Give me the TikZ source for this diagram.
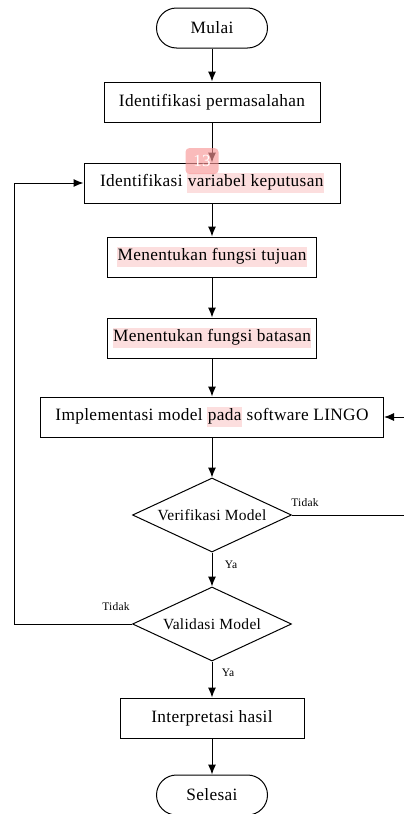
\documentclass[tikz,border=0pt]{standalone}
\usepackage{fontspec}
\setmainfont[LetterSpace=2]{Liberation Serif}
\usetikzlibrary{shapes.geometric,arrows.meta}
\definecolor{hl}{RGB}{252,222,222}
\definecolor{badge}{RGB}{248,150,150}
\newcommand{\hlt}[1]{{\setlength{\fboxsep}{0.5pt}\colorbox{hl}{\strut #1}}}
\begin{document}
\begin{tikzpicture}[x=1pt,y=-1pt,
  every node/.style={font=\fontsize{17.3}{19}\selectfont},
  term/.style={draw, rounded corners=20pt, minimum width=111pt, minimum height=40pt, line width=1pt},
  procbox/.style={draw, minimum height=40pt, line width=1pt},
  decision/.style={draw, diamond, aspect=2.14, minimum width=159pt, minimum height=74pt, inner sep=0pt, line width=1pt, font=\fontsize{15.5}{17}\selectfont},
  lbl/.style={font=\fontsize{11.5}{13}\selectfont},
  conn/.style={line width=1pt, -{Latex[length=10pt,width=8pt]}},
  plain/.style={line width=1pt}]
\useasboundingbox (0,0) rectangle (404,814);
\node[term] (start) at (212,28) {Mulai};
\node[procbox, minimum width=216pt] (p1) at (212,102) {Identifikasi permasalahan};
\node[procbox, minimum width=256pt] (p2) at (212,183) {Identifikasi \hlt{variabel keputusan}};
\node[procbox, minimum width=209pt] (p3) at (212,257) {\hlt{Menentukan fungsi tujuan}};
\node[procbox, minimum width=209pt] (p4) at (212,338) {\hlt{Menentukan fungsi batasan}};
\node[procbox, minimum width=343pt] (p5) at (212,417) {Implementasi model \hlt{pada} software LINGO};
\node[decision] (d1) at (212,515) {Verifikasi Model};
\node[decision] (d2) at (212,624) {Validasi Model};
\node[procbox, minimum width=184pt] (p6) at (212,718) {Interpretasi hasil};
\node[term] (end) at (212,795) {Selesai};
\draw[conn] (start) -- (p1);
\draw[conn] (p1) -- (p2);
\draw[conn] (p2) -- (p3);
\draw[conn] (p3) -- (p4);
\draw[conn] (p4) -- (p5);
\draw[conn] (p5) -- (d1);
\draw[conn] (d1) -- (d2);
\draw[conn] (d2) -- (p6);
\draw[conn] (p6) -- (end);
\coordinate (lb) at (14,624);
\coordinate (lt) at (14,183);
\draw[conn] (d2.west) -- (lb) -- (lt) -- (p2.west);
\coordinate (re) at (404,515);
\coordinate (rin) at (404,417);
\draw[plain] (d1.east) -- (re);
\draw[conn] (rin) -- (p5.east);
\node[lbl] (t1) at (305,503) {Tidak};
\node[lbl] (y1) at (231,565) {Ya};
\node[lbl] (t2) at (116,607) {Tidak};
\node[lbl] (y2) at (228,673) {Ya};
\node[fill=badge, fill opacity=0.65, text opacity=1, text=white, rounded corners=4pt, minimum width=33pt, minimum height=26pt, inner sep=0pt, font=\fontsize{17}{18}\selectfont] (badge) at (202,161) {13};
\end{tikzpicture}
\end{document}
